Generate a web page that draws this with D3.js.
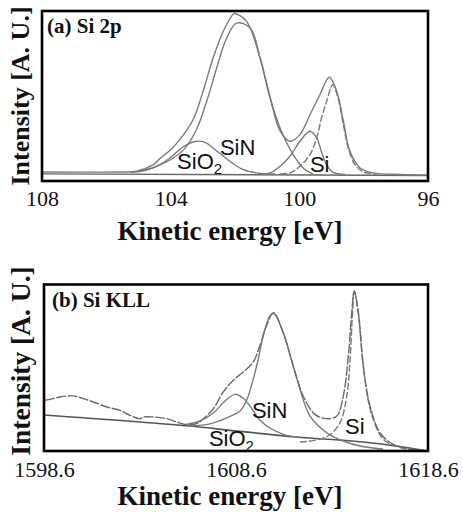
<!DOCTYPE html>
<html>
<head>
<meta charset="utf-8">
<script src="https://cdn.jsdelivr.net/npm/d3@7"></script>
<style>
  body { margin: 0; background: #fff; }
  svg { display: block; }
</style>
</head>
<body>
<div id="chart"></div>
<script>
// ---- data: [energy eV, intensity a.u.] ----

// (a) Si 2p
const si2pTicks = [108, 104, 100, 96];
const si2pBackground = [[108, -1.2], [96, -2.2]];
const si2pEnvelope = [
    [108, 0], [105.58, 0], [105.06, 0.4], [104.54, 4.6], [104.33, 8.5], [104.0, 14],
    [103.71, 20.5], [103.30, 33], [102.99, 50.9], [102.68, 71.7], [102.36, 88.7], [102.05, 99.4],
    [102.0, 99.7], [101.64, 94.8], [101.22, 71.7], [100.91, 47.2], [100.60, 25.8],
    [100.29, 19.3], [99.98, 23.5], [99.67, 36.0], [99.36, 48.6], [99.07, 59.6],
    [98.84, 50.8], [98.63, 31.9], [98.43, 13.2], [98.11, 2.5], [97.71, -0.6],
    [96.87, -1.6], [96, -1.9]
];
const si2pSiN = [
    [104.95, 0.6], [104.49, 3.1], [104.02, 7.5], [103.55, 15], [103.19, 27],
    [102.88, 44.5], [102.57, 65.4], [102.26, 84.3], [101.95, 93.7], [101.53, 90.6],
    [101.22, 71.7], [100.91, 46.5], [100.60, 27.7], [100.19, 10.9], [99.88, 2.5],
    [99.58, -1.3]
];
const si2pSiO2 = [
    [105.26, -0.1], [104.95, 0.3], [104.55, 2.5], [104.02, 8.8], [103.62, 15.7],
    [103.24, 19.2], [102.93, 18.6], [102.68, 15.1], [102.16, 6.7], [101.74, 1.4],
    [101.33, -0.6], [100.76, -1.3]
];
const si2pSiSmall = [
    [101.16, -1.3], [100.91, -0.6], [100.60, 3.6], [100.29, 9.9], [99.98, 19.3],
    [99.67, 25.6], [99.46, 21.4], [99.31, 12.6], [99.15, 4.4], [98.95, -0.3], [98.58, -1.6]
];
const si2pSi = [
    [100.60, -1.3], [100.29, -0.6], [99.98, 3.6], [99.67, 10.9], [99.46, 21.4],
    [99.31, 34.0], [99.15, 44.5], [98.96, 54.9], [98.79, 45.9], [98.63, 29.7],
    [98.48, 15.1], [98.27, 4.6], [98.01, 0], [97.60, -1.6]
];
const si2pLabels = [
    { text: "SiN", e: 102.47, i: 10.7 },
    { text: "SiO", sub: "2", e: 103.80, i: 1.9 },
    { text: "Si", e: 99.67, i: 0 }
];

// (b) Si KLL
const siKllTicks = [1598.6, 1608.6, 1618.6];
const siKllBackground = [
    [1598.6, 22.5], [1606.2, 15.6], [1608.29, 12.9], [1611.76, 8.75],
    [1615.23, 5.6], [1617.3, 2.5], [1618.6, 0]
];
const siKllData = [
    [1598.65, 31.7], [1599.08, 32.7], [1599.43, 33.75], [1600.13, 34.4], [1600.65, 32.7],
    [1601.17, 30.6], [1601.87, 27.5], [1602.56, 25.4], [1603.08, 22.3], [1603.6, 20.2],
    [1603.77, 21.25], [1604.29, 21.25], [1604.99, 20.2], [1605.51, 18.1], [1606.03, 16.4],
    [1606.55, 17.1], [1606.9, 20.2], [1607.42, 26.4], [1607.94, 36.9], [1608.46, 44.2],
    [1608.98, 49.4], [1609.5, 55.6], [1609.85, 66.1], [1610.2, 78.6], [1610.55, 86.4],
    [1611.06, 73.9], [1611.58, 53.1], [1612.1, 34.4], [1612.71, 22.9], [1613.32, 20.2],
    [1613.85, 21.9], [1614.19, 34.4], [1614.45, 59.4], [1614.63, 86.4], [1614.76, 100],
    [1614.97, 86.4], [1615.23, 53.1], [1615.58, 28.1], [1616.1, 11.4], [1616.79, 4.2],
    [1617.66, 1.4], [1618.53, 0]
];
const siKllSiN = [
    [1606.2, 15.6], [1607.25, 16.9], [1608.46, 22.5], [1608.81, 25], [1609.16, 31.9],
    [1609.49, 44.4], [1609.75, 56.9], [1610.02, 71.9], [1610.37, 84.4], [1610.58, 85.9],
    [1611.06, 73.8], [1611.58, 53.1], [1611.93, 38.75], [1612.45, 21.9], [1613.32, 11.4],
    [1614.19, 6.25], [1615.06, 3.1], [1616.27, 1.1]
];
const siKllSiO2 = [
    [1606.03, 16.7], [1606.73, 18.75], [1607.42, 23.75], [1608.03, 31.25], [1608.55, 35.4],
    [1608.96, 33.1], [1609.33, 28.1], [1609.75, 20.6], [1610.2, 15.6], [1611.06, 10.4],
    [1611.93, 8.3]
];
const siKllSi = [
    [1611.93, 5.6], [1612.8, 6.9], [1613.5, 10.3], [1614.02, 17.7], [1614.37, 34.4],
    [1614.54, 56.9], [1614.65, 81.9], [1614.76, 100], [1614.97, 86.4], [1615.23, 53.1],
    [1615.48, 31.9], [1615.75, 19.8], [1616.27, 7.3], [1617.14, 2.1], [1618.18, 0.3]
];
const siKllLabels = [
    { text: "SiN", e: 1609.43, i: 20.6 },
    { text: "SiO", sub: "2", e: 1607.19, i: 3.1 },
    { text: "Si", e: 1614.28, i: 10.6 }
];

const width = 463, height = 512;
const serif = "'Liberation Serif', 'Times New Roman', serif";
const sans = "'Liberation Sans', Arial, sans-serif";

const svg = d3.select("#chart").append("svg")
    .attr("width", width)
    .attr("height", height);

function drawPanel(cfg) {
    const x = d3.scaleLinear().domain(cfg.xDomain).range([cfg.left, cfg.right]);
    const y = d3.scaleLinear().domain(cfg.yDomain).range([cfg.bottom, cfg.top]);

    const g = svg.append("g");

    const line = d3.line()
        .x(d => x(d[0]))
        .y(d => y(d[1]))
        .curve(d3.curveCatmullRom.alpha(0.5));

    // curves
    cfg.curves.forEach(c => {
        g.append("path")
            .datum(c.data)
            .attr("fill", "none")
            .attr("stroke", c.color || "#7a7a7a")
            .attr("stroke-width", c.width || 1.4)
            .attr("stroke-dasharray", c.dash || null)
            .attr("d", c.straight ? d3.line().x(d => x(d[0])).y(d => y(d[1]))(c.data) : line(c.data));
    });

    // component labels
    cfg.labels.forEach(l => {
        const t = g.append("text")
            .attr("x", x(l.e))
            .attr("y", y(l.i))
            .attr("font-family", sans)
            .attr("font-size", 22)
            .attr("fill", "#111")
            .text(l.text);
        if (l.sub) {
            t.append("tspan")
                .attr("dy", 5)
                .attr("font-size", 15)
                .text(l.sub);
        }
    });

    // frame
    g.append("rect")
        .attr("x", cfg.left)
        .attr("y", cfg.top)
        .attr("width", cfg.right - cfg.left)
        .attr("height", cfg.bottom - cfg.top)
        .attr("fill", "none")
        .attr("stroke", "#000")
        .attr("stroke-width", 2.6);

    // x axis (labels only)
    const xAxis = d3.axisBottom(x)
        .tickValues(cfg.ticks)
        .tickSize(0)
        .tickPadding(cfg.tickPad)
        .tickFormat(d => cfg.tickFmt(d));

    const ax = g.append("g")
        .attr("transform", "translate(0," + cfg.bottom + ")")
        .call(xAxis);
    ax.select(".domain").remove();
    ax.selectAll("text")
        .attr("font-family", serif)
        .attr("font-size", 22)
        .attr("fill", "#111");

    // panel title
    g.append("text")
        .attr("x", cfg.left + cfg.titleDx)
        .attr("y", cfg.top + cfg.titleDy)
        .attr("font-family", serif)
        .attr("font-weight", "bold")
        .attr("font-size", 21)
        .attr("fill", "#111")
        .text(cfg.title);

    // axis titles
    g.append("text")
        .attr("transform", "translate(" + cfg.yLabelX + "," + cfg.yLabelY + ") rotate(-90)")
        .attr("text-anchor", "middle")
        .attr("font-family", serif)
        .attr("font-weight", "bold")
        .attr("font-size", cfg.yLabelSize)
        .attr("fill", "#111")
        .text("Intensity [A. U.]");

    g.append("text")
        .attr("x", 230)
        .attr("y", cfg.xLabelY)
        .attr("text-anchor", "middle")
        .attr("font-family", serif)
        .attr("font-weight", "bold")
        .attr("font-size", 27)
        .attr("fill", "#111")
        .text("Kinetic energy [eV]");
}

drawPanel({
    left: 42, right: 428, top: 11, bottom: 181,
    xDomain: [108, 96], yDomain: [-5.7, 101.3],
    ticks: si2pTicks, tickFmt: d3.format("d"), tickPad: 9,
    title: "(a) Si 2p", titleDx: 5, titleDy: 22,
    yLabelX: 29, yLabelY: 96, yLabelSize: 26,
    xLabelY: 239.5,
    labels: si2pLabels,
    curves: [
        { data: si2pBackground, straight: true, color: "#666" },
        { data: si2pSiO2 },
        { data: si2pSiN },
        { data: si2pSiSmall },
        { data: si2pSi, dash: "7,2" },
        { data: si2pEnvelope }
    ]
});

drawPanel({
    left: 44, right: 428, top: 284.5, bottom: 451,
    xDomain: [1598.6, 1618.6], yDomain: [0, 104],
    ticks: siKllTicks, tickFmt: d3.format(".1f"), tickPad: 10,
    title: "(b) Si KLL", titleDx: 8, titleDy: 22.5,
    yLabelX: 30, yLabelY: 361, yLabelSize: 27.5,
    xLabelY: 505,
    labels: siKllLabels,
    curves: [
        { data: siKllBackground, color: "#555", width: 1.6 },
        { data: siKllSiO2 },
        { data: siKllSiN },
        { data: siKllSi, dash: "7,2" },
        { data: siKllData, dash: "10,1.5", color: "#6a6a6a" }
    ]
});
</script>
</body>
</html>
